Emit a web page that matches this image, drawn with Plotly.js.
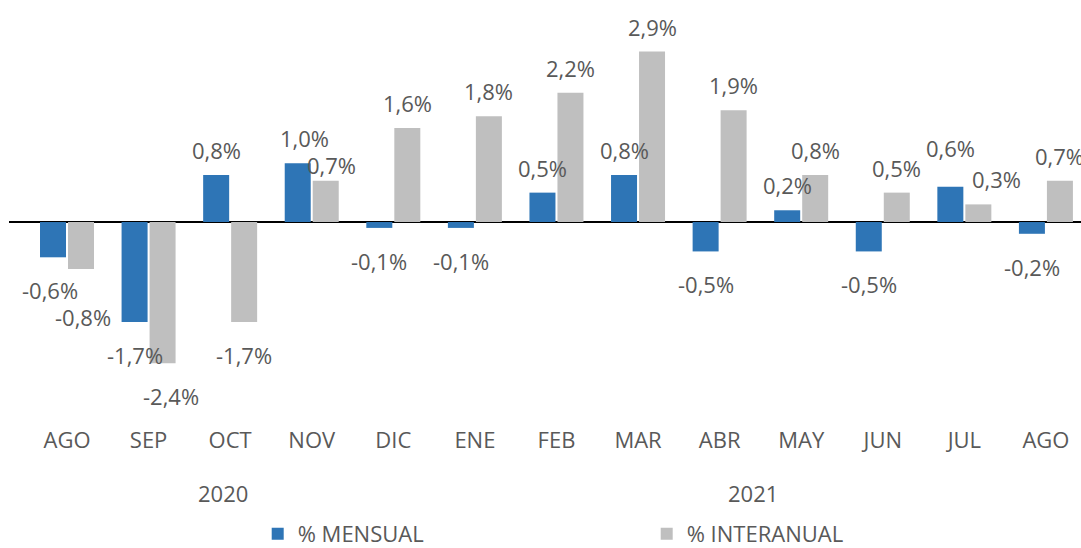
<!DOCTYPE html>
<html>
<head>
<meta charset="utf-8">
<script src="https://cdn.plot.ly/plotly-3.0.1.min.js"></script>
<style>html,body{margin:0;padding:0;background:#fff;}#chart{width:1081px;height:548px;}</style>
</head>
<body>
<div id="chart"></div>
<script>
// ---- data ----
const months = ["AGO", "SEP", "OCT", "NOV", "DIC", "ENE", "FEB", "MAR", "ABR", "MAY", "JUN", "JUL", "AGO"];
const years = ["2020", "2021"];
const yearSpans = [[0, 4], [5, 12]];
const mensual = [-0.6, -1.7, 0.8, 1.0, -0.1, -0.1, 0.5, 0.8, -0.5, 0.2, -0.5, 0.6, -0.2];
const interanual = [-0.8, -2.4, -1.7, 0.7, 1.6, 1.8, 2.2, 2.9, 1.9, 0.8, 0.5, 0.3, 0.7];
const seriesNames = ["% MENSUAL", "% INTERANUAL"];

// ---- style ----
const BLUE = "#2E75B6", GRAY = "#BFBFBF", TXT = "#595959";
const FONT = "Open Sans, Liberation Sans, sans-serif";
const FS = 22;
const xIdx = months.map((_, i) => i);

// manual label nudges (pixels) [dx, dy]
const nudge = {
  "0:0": [-3, 0], "1:0": [2, -15], "1:1": [8, 0], "0:3": [7, 0],
  "1:3": [6, -9], "0:11": [0, 14], "1:11": [18, 0]
};

const fmt = v => v.toFixed(1).replace(".", ",") + "%";

const traces = [
  {type: "bar", x: xIdx, y: mensual, name: seriesNames[0], marker: {color: BLUE}, hoverinfo: "skip"},
  {type: "bar", x: xIdx, y: interanual, name: seriesNames[1], marker: {color: GRAY}, hoverinfo: "skip"}
];

const annotations = [];
[mensual, interanual].forEach((arr, s) => {
  arr.forEach((v, i) => {
    const n = nudge[s + ":" + i] || [0, 0];
    annotations.push({
      x: i, y: v, xref: "x", yref: "y", text: fmt(v), showarrow: false,
      xanchor: "center", yanchor: "middle",
      xshift: (s === 0 ? -14 : 14) + n[0],
      yshift: (v >= 0 ? 25 : -33) + n[1],
      font: {family: FONT, size: FS, color: TXT}
    });
  });
});
years.forEach((yr, k) => {
  annotations.push({
    x: (yearSpans[k][0] + yearSpans[k][1]) / 2, y: -0.16, xref: "x", yref: "paper",
    text: yr, showarrow: false, xanchor: "center", yanchor: "middle", xshift: -7,
    font: {family: FONT, size: FS, color: TXT}
  });
});

const layout = {
  width: 1081, height: 548,
  margin: {l: 9, r: 0, t: 0, b: 123, pad: 0, autoexpand: false},
  paper_bgcolor: "#fff", plot_bgcolor: "#fff",
  barmode: "group", bargap: 0.3136, bargroupgap: 0.0714,
  font: {family: FONT, size: FS, color: TXT},
  xaxis: {
    range: [-0.711, 12.43], tickvals: xIdx, ticktext: months,
    showgrid: false, zeroline: false, showline: false, ticks: "",
    tickfont: {family: FONT, size: FS, color: TXT}, fixedrange: true, automargin: false
  },
  yaxis: {
    range: [-3.452, 3.776], showgrid: false, showticklabels: false, ticks: "",
    zeroline: true, zerolinecolor: "#000", zerolinewidth: 2.5, showline: false, fixedrange: true, automargin: false
  },
  showlegend: true,
  legend: {
    orientation: "h", x: 0.232, xanchor: "left", y: -0.2565, yanchor: "middle",
    entrywidth: 344, entrywidthmode: "pixels",
    font: {family: FONT, size: FS, color: TXT}, bgcolor: "rgba(0,0,0,0)"
  },
  annotations: annotations
};

Plotly.newPlot("chart", traces, layout, {displayModeBar: false, staticPlot: true});
</script>
</body>
</html>
